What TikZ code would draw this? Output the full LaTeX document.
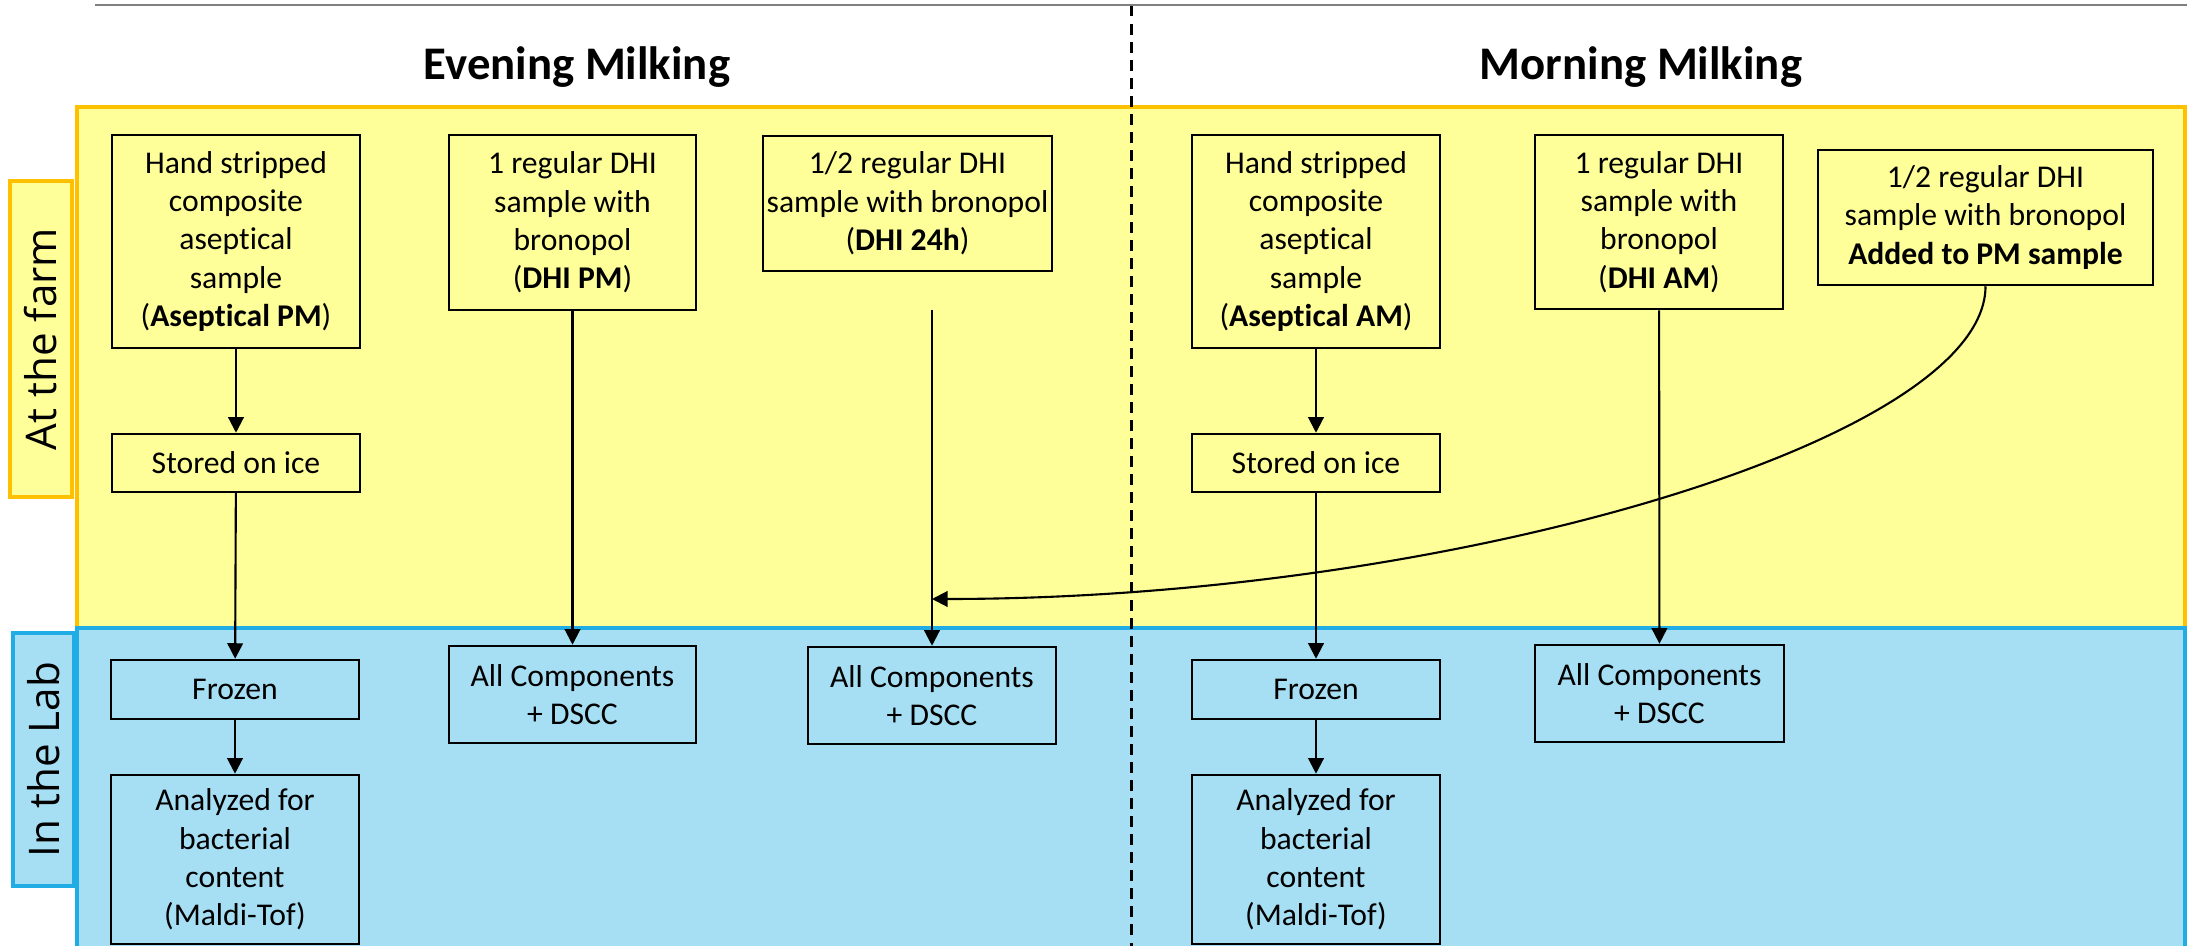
\documentclass[tikz,border=0pt]{standalone}
\usepackage{fontspec}
\setmainfont{Carlito}[Ligatures=NoCommon]
\newfontfamily\sidefont{Open Sans}
\usetikzlibrary{arrows.meta}
\definecolor{farmfill}{HTML}{FFFF99}
\definecolor{farmline}{HTML}{FFC000}
\definecolor{labfill}{HTML}{A6DEF3}
\definecolor{labline}{HTML}{20ACE4}
\begin{document}
\begin{tikzpicture}[x=0.01cm,y=-0.01cm,
  stepbox/.style={draw=black, line width=0.7pt, align=center, inner sep=0pt,
    font=\fontsize{9}{10.9}\selectfont},
  flow/.style={line width=0.6pt, -{Triangle[length=0.155cm,width=0.155cm]}},
  titletext/.style={font=\fontsize{13.3}{15}\selectfont\bfseries, anchor=base},
  sidebox/.style={line width=1pt, rotate=90, inner sep=0pt,
    font=\fontsize{12}{14}\sidefont},
]
\useasboundingbox (0,0) rectangle (2187,946);
\begin{scope}
  \clip (0,0) rectangle (2187,946);
  \fill[white] (0,0) rectangle (2187,946);
  \draw[farmline, fill=farmfill, line width=1pt] (77,107) rectangle (2185,628);
  \draw[labline, fill=labfill, line width=1pt] (77,628) rectangle (2185,980);
\end{scope}
\draw[gray, line width=0.5pt] (95,5) -- (2187,5);

% side labels
\node[sidebox, draw=farmline, fill=farmfill, minimum width=3.16cm, minimum height=0.62cm] (farm) at (41,339) {At the farm};
\node[sidebox, draw=labline, fill=labfill, minimum width=2.53cm, minimum height=0.61cm] (lab) at (43.5,759.5) {In the Lab};

% titles
\node[titletext] (teve) at (577,80) {Evening Milking};
\node[titletext] (tmor) at (1641,80) {Morning Milking};

% farm boxes
\node[stepbox, minimum width=2.48cm, minimum height=2.13cm] (asPM) at (236,241.5)
  {Hand stripped\\composite\\aseptical\\sample\\(\textbf{Aseptical PM})};
\node[stepbox, minimum width=2.48cm, minimum height=0.58cm] (icePM) at (236,463) {Stored on ice};
\node[stepbox, minimum width=2.47cm, minimum height=1.75cm] (dhiPM) at (572.5,222.5)
  {1 regular DHI\\sample with\\bronopol\\(\textbf{DHI PM})};
\node[stepbox, minimum width=2.89cm, minimum height=1.35cm] (dhi24) at (907.5,203.5)
  {1/2 regular DHI\\sample with bronopol\\(\textbf{DHI 24h})};
\node[stepbox, minimum width=2.48cm, minimum height=2.13cm] (asAM) at (1316,241.5)
  {Hand stripped\\composite\\aseptical\\sample\\(\textbf{Aseptical AM})};
\node[stepbox, minimum width=2.48cm, minimum height=0.58cm] (iceAM) at (1316,463) {Stored on ice};
\node[stepbox, minimum width=2.48cm, minimum height=1.74cm] (dhiAM) at (1659,222)
  {1 regular DHI\\sample with\\bronopol\\(\textbf{DHI AM})};
\node[stepbox, minimum width=3.35cm, minimum height=1.35cm] (addPM) at (1985.5,217.5)
  {1/2 regular DHI\\sample with bronopol\\\textbf{Added to PM sample}};

% lab boxes
\node[stepbox, minimum width=2.48cm, minimum height=0.59cm] (frPM) at (235,689.5) {Frozen};
\node[stepbox, minimum width=2.48cm, minimum height=1.69cm] (anPM) at (235,859.5)
  {Analyzed for\\bacterial\\content\\(Maldi-Tof)};
\node[stepbox, minimum width=2.47cm, minimum height=0.97cm] (allPM) at (572.5,694.5)
  {All Components\\+ DSCC};
\node[stepbox, minimum width=2.48cm, minimum height=0.97cm] (all24) at (932,695.5)
  {All Components\\+ DSCC};
\node[stepbox, minimum width=2.48cm, minimum height=0.59cm] (frAM) at (1316,689.5) {Frozen};
\node[stepbox, minimum width=2.48cm, minimum height=1.69cm] (anAM) at (1316,859.5)
  {Analyzed for\\bacterial\\content\\(Maldi-Tof)};
\node[stepbox, minimum width=2.49cm, minimum height=0.97cm] (allAM) at (1659.5,693.5)
  {All Components\\+ DSCC};

% divider
\draw[line width=0.85pt, dash pattern=on 0.105cm off 0.075cm] (1131,6) -- (1131,946);

% connectors
\coordinate (start24) at (932,310);
\coordinate (join) at (932,599);
\draw[flow] (asPM) -- (icePM);
\draw[flow] (icePM) -- (frPM);
\draw[flow] (frPM) -- (anPM);
\draw[flow] (dhiPM) -- (allPM);
\draw[flow] (start24) -- (all24.north);
\draw[flow] (asAM) -- (iceAM);
\draw[flow] (iceAM) -- (frAM);
\draw[flow] (frAM) -- (anAM);
\draw[flow] (dhiAM) -- (allAM);
\draw[flow] (addPM.south) .. controls (1985.5,440) and (1450,599) .. (join);
\end{tikzpicture}
\end{document}
